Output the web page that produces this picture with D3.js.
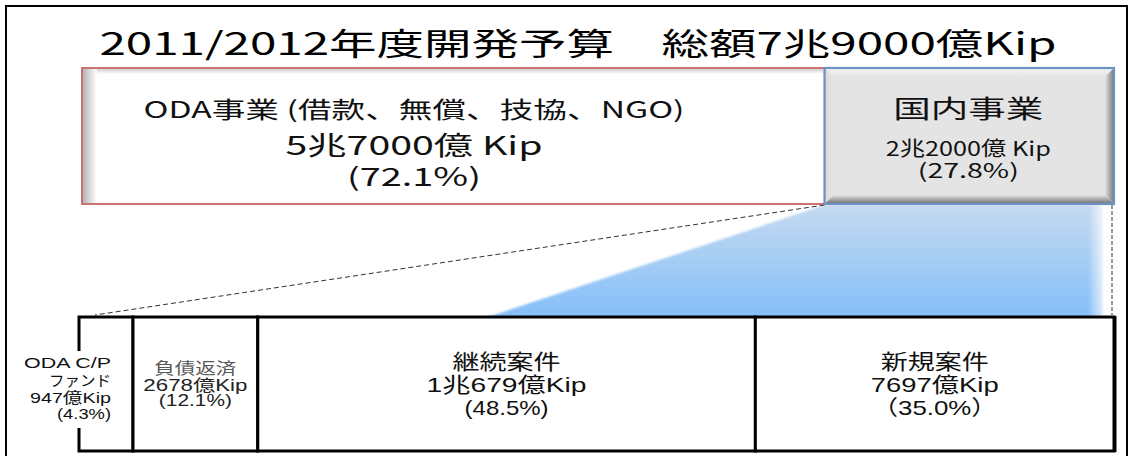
<!DOCTYPE html>
<html><head><meta charset="utf-8">
<script src="https://cdn.jsdelivr.net/npm/d3@7"></script>
<style>
html,body{margin:0;padding:0;background:#fff;}
svg{display:block;}
</style></head>
<body>
<script>
// ---- data ----
const titleText = "2011/2012年度開発予算　総額7兆9000億Kip";
const topCategories = ["ODA事業 (借款、無償、技協、NGO)", "国内事業"];
const topValues = [57000, 22000];               // 億Kip
const topValueLabels = ["5兆7000億 Kip", "2兆2000億 Kip"];
const topShareLabels = ["(72.1%)", "(27.8%)"];
const bottomCategories = [["ODA  C/P", "ファンド"], ["負債返済"], ["継続案件"], ["新規案件"]];
const bottomValues = [947, 2678, 10679, 7697];  // 億Kip
const bottomValueLabels = ["947億Kip", "2678億Kip", "1兆679億Kip", "7697億Kip"];
const bottomShareLabels = ["(4.3%)", "(12.1%)", "(48.5%)", "（35.0%）"];

// ---- layout ----
const W = 1135, H = 456;
const svg = d3.select("body").append("svg").attr("width", W).attr("height", H);
const defs = svg.append("defs");
const jpFont = "'Noto Sans CJK JP','Noto Sans',sans-serif";
const arFont = "'Liberation Sans',Arial,'Noto Sans CJK JP',sans-serif";

function lin(id, x1, y1, x2, y2, stops) {
  const g = defs.append("linearGradient").attr("id", id)
    .attr("x1", x1).attr("y1", y1).attr("x2", x2).attr("y2", y2);
  stops.forEach(s => g.append("stop").attr("offset", s[0]).attr("stop-color", s[1]).attr("stop-opacity", s[2] == null ? 1 : s[2]));
}
lin("blueGrad", 0, 0, 0, 1, [[0, "#c5daf0"], [1, "#84bff9"]]);
lin("fadeR", 0, 0, 1, 0, [[0, "#ffffff", 0], [1, "#ffffff", 0.85]]);
lin("odaLeft", 0, 0, 1, 0, [[0, "#b5b5b5"], [1, "#ffffff"]]);
lin("odaTop", 0, 0, 0, 1, [[0, "#d0d0d0"], [1, "#ffffff"]]);
lin("bvTop", 0, 0, 0, 1, [[0, "#f4f4f4"], [1, "#e4e4e4"]]);
lin("bvLeft", 0, 0, 1, 0, [[0, "#d8d8d8"], [1, "#e6e6e6"]]);
lin("bvRight", 0, 0, 1, 0, [[0, "#e2e2e2"], [1, "#777777"]]);
lin("bvBot", 0, 0, 0, 1, [[0, "#e2e2e2"], [1, "#6c6c6c"]]);
defs.append("filter").attr("id", "soft").append("feGaussianBlur").attr("stdDeviation", 0.8);

svg.append("rect").attr("width", W).attr("height", H).attr("fill", "#fff");

// outer frame
svg.append("rect").attr("x", 6).attr("y", 6).attr("width", 1121).attr("height", 470)
  .attr("fill", "none").attr("stroke", "#000").attr("stroke-width", 2);

// title
svg.append("text").attr("x", 578).attr("y", 55).attr("text-anchor", "middle")
  .attr("font-family", jpFont).attr("font-size", 31).attr("fill", "#000")
  .attr("textLength", 957).attr("lengthAdjust", "spacingAndGlyphs").text(titleText);

// multi-line label block: one <text>, one <tspan> per line
function block(parent, x, anchor, family, lines) {
  const t = parent.append("text").attr("text-anchor", anchor).attr("font-family", family);
  lines.forEach(l => t.append("tspan").attr("x", x).attr("y", l.y)
    .attr("font-size", l.fs).attr("fill", l.c || "#111")
    .attr("textLength", l.len).attr("lengthAdjust", "spacingAndGlyphs").text(l.t));
  return t;
}

// ---- scales ----
const topTotal = d3.sum(topValues);
const xTop = d3.scaleLinear().domain([0, topTotal]).range([82, 1114]);
const topCum = [0, topValues[0], topTotal];
const yTop0 = 68, yTop1 = 204;

const botTotal = d3.sum(bottomValues);
const botLeft = 79, firstMinW = 54;
// first (small) segment gets a minimum width, the rest share the remaining width proportionally
const xBot = d3.scaleLinear().domain([bottomValues[0], botTotal]).range([botLeft + firstMinW, 1114]);
const botCum = [0].concat(Array.from(d3.cumsum(bottomValues)));
const bx = v => (v <= 0 ? botLeft : xBot(Math.max(v, bottomValues[0])));
const yBot0 = 317, yBot1 = 451;

// ---- blue expansion area ----
const dx0 = xTop(topCum[1]) - 2, dx1 = xTop(topCum[2]);
const blue = svg.append("g");
blue.append("polygon")
  .attr("points", [[dx0, yTop1 + 1], [dx1 - 11, yTop1 + 1], [dx1 - 11, yBot0], [488, yBot0]].map(p => p.join(",")).join(" "))
  .attr("fill", "url(#blueGrad)").attr("filter", "url(#soft)");
blue.append("rect").attr("x", dx1 - 26).attr("y", yTop1 + 1).attr("width", 17).attr("height", yBot0 - yTop1 - 1)
  .attr("fill", "url(#fadeR)");

// dashed guide lines
svg.append("line").attr("x1", dx0).attr("y1", yTop1 + 1).attr("x2", bx(0) + 16).attr("y2", yBot0 - 2)
  .attr("stroke", "#333").attr("stroke-width", 1).attr("stroke-dasharray", "5,3");
svg.append("line").attr("x1", dx1 - 2).attr("y1", yTop1 + 1).attr("x2", dx1 - 2).attr("y2", yBot0 - 2)
  .attr("stroke", "#333").attr("stroke-width", 1).attr("stroke-dasharray", "4,2");

// ---- top boxes ----
// ODA box
{
  const x0 = xTop(topCum[0]), x1 = xTop(topCum[1]) - 2;
  const g = svg.append("g");
  g.append("rect").attr("x", x0).attr("y", yTop0).attr("width", x1 - x0).attr("height", yTop1 - yTop0)
    .attr("fill", "#fff");
  g.append("rect").attr("x", x0 + 1).attr("y", yTop0 + 1).attr("width", x1 - x0 - 2).attr("height", 5).attr("fill", "url(#odaTop)");
  g.append("rect").attr("x", x0 + 1).attr("y", yTop0 + 1).attr("width", 14).attr("height", yTop1 - yTop0 - 2).attr("fill", "url(#odaLeft)");
  g.append("rect").attr("x", x0).attr("y", yTop0).attr("width", x1 - x0).attr("height", yTop1 - yTop0)
    .attr("fill", "none").attr("stroke", "#c0504d").attr("stroke-width", 1.6);
  block(g, 414, "middle", jpFont, [
    {t: topCategories[0], y: 118, fs: 23, len: 541},
    {t: topValueLabels[0], y: 155, fs: 26, len: 257},
    {t: topShareLabels[0], y: 186, fs: 25, len: 134}
  ]);
}
// Domestic box with bevel
{
  const x0 = xTop(topCum[1]) - 2, x1 = xTop(topCum[2]), y0 = yTop0, y1 = yTop1, b = 9;
  const g = svg.append("g");
  g.append("rect").attr("x", x0).attr("y", y0).attr("width", x1 - x0).attr("height", y1 - y0).attr("fill", "#e4e4e4");
  const poly = (pts, fill) => g.append("polygon").attr("points", pts.map(p => p.join(",")).join(" ")).attr("fill", fill);
  poly([[x0, y0], [x1, y0], [x1 - b, y0 + b], [x0 + b, y0 + b]], "url(#bvTop)");
  poly([[x0, y0], [x0 + b, y0 + b], [x0 + b, y1 - b], [x0, y1]], "url(#bvLeft)");
  poly([[x1, y0], [x1, y1], [x1 - b, y1 - b], [x1 - b, y0 + b]], "url(#bvRight)");
  poly([[x0, y1], [x1, y1], [x1 - b, y1 - b], [x0 + b, y1 - b]], "url(#bvBot)");
  g.append("rect").attr("x", x0).attr("y", y0).attr("width", x1 - x0).attr("height", y1 - y0)
    .attr("fill", "none").attr("stroke", "#6f92c6").attr("stroke-width", 2.2);
  block(g, (x0 + x1) / 2 - 1, "middle", jpFont, [
    {t: topCategories[1], y: 118, fs: 25, len: 150},
    {t: topValueLabels[1], y: 156, fs: 20, len: 165},
    {t: topShareLabels[1], y: 178, fs: 20, len: 101}
  ]);
}

// ---- bottom boxes ----
const bottom = svg.append("g");
bottomValues.forEach((v, i) => {
  const x0 = bx(botCum[i]), x1 = bx(botCum[i + 1]);
  bottom.append("rect").attr("x", x0).attr("y", yBot0).attr("width", x1 - x0).attr("height", yBot1 - yBot0)
    .attr("fill", "#fff").attr("stroke", "#000").attr("stroke-width", 3);
});
// thicker right edge
bottom.append("line").attr("x1", bx(botTotal) + 1).attr("x2", bx(botTotal) + 1).attr("y1", yBot0 - 1).attr("y2", yBot1 + 1)
  .attr("stroke", "#000").attr("stroke-width", 3);

// label styles per segment (positions / sizes only)
const botStyles = [
  {anchor: "end", fs: 15, ys: [368, 386, 403, 419], lens: [87, 62, 81, 54], colors: ["#111", "#111", "#111", "#111"]},
  {anchor: "middle", fs: 16, ys: [374, 391, 406], lens: [82, 104, 73], colors: ["#595959", "#222", "#222"]},
  {anchor: "middle", fs: 21, ys: [369, 392, 415], lens: [108, 160, 84], colors: ["#111", "#111", "#111"]},
  {anchor: "middle", fs: 21, ys: [369, 392, 415], lens: [108, 128, 125], colors: ["#111", "#111", "#111"]}
];
// white backing for the first segment's label (it overlaps the box edge)
bottom.append("rect").attr("x", 18).attr("y", 351).attr("width", 96).attr("height", 77).attr("fill", "#fff");

bottomValues.forEach((v, i) => {
  const x0 = bx(botCum[i]), x1 = bx(botCum[i + 1]);
  const st = botStyles[i];
  const tx = st.anchor === "end" ? x1 - 22 : (x0 + x1) / 2;
  const lines = bottomCategories[i].concat([bottomValueLabels[i], bottomShareLabels[i]]);
  block(bottom, tx, st.anchor, arFont,
    lines.map((t, j) => ({t: t, y: st.ys[j], fs: st.fs, len: st.lens[j], c: st.colors[j]})));
});
</script>
</body></html>
